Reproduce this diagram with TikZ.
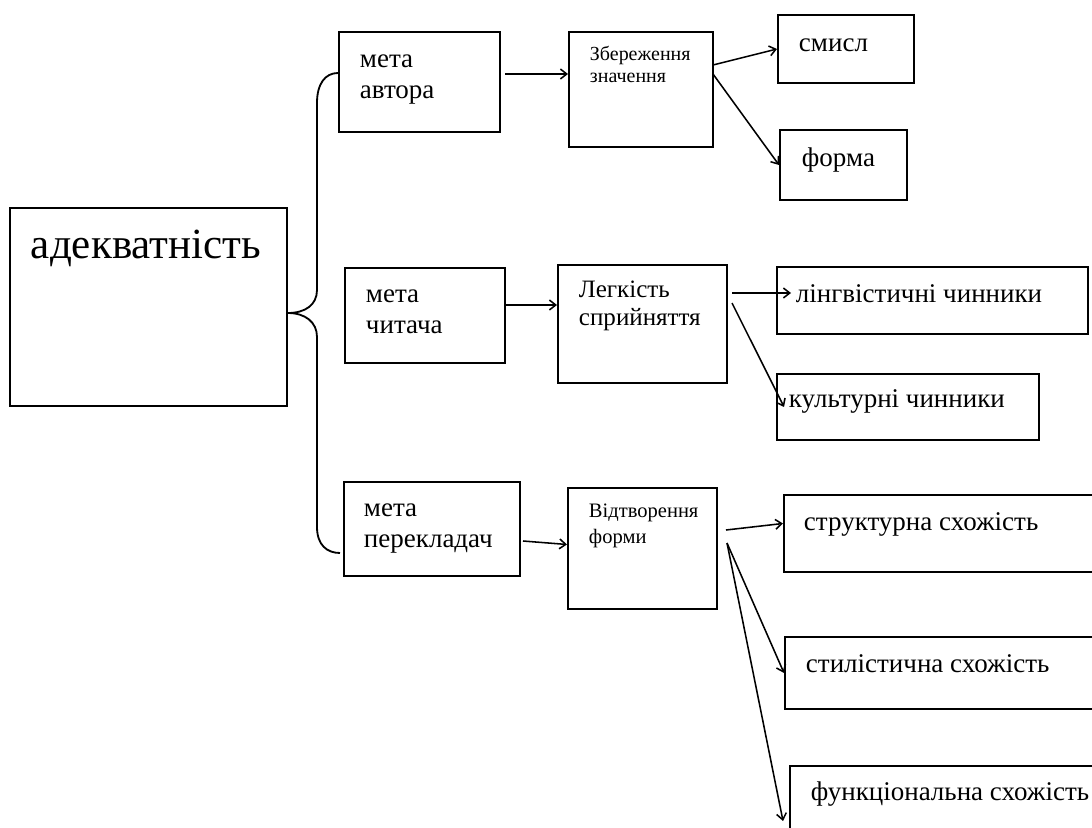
\documentclass[tikz,border=0pt]{standalone}
\usepackage{fontspec}
\setmainfont{Liberation Serif}
\usetikzlibrary{arrows.meta}
\newlength{\px}
\setlength{\px}{0.025cm}
\tikzset{
>={Straight Barb[length=4.5pt,width=7pt]},
  blok/.style n args={4}{
    draw=black, line width=1.4pt,
    anchor=north west,
    inner sep=0pt,
    execute at begin node={\begin{minipage}[t][#2\px][t]{#1\px}\raggedright\setlength{\leftskip}{#3\px}\rule{0pt}{#4\px}},
    execute at end node={\end{minipage}}},
  bigtxt/.style={font=\fontsize{30.6pt}{35pt}\selectfont},
  midtxt/.style={font=\fontsize{19.2pt}{22pt}\selectfont},
  legtxt/.style={font=\fontsize{17.8pt}{19.9pt}\selectfont},
  smalltxt/.style={font=\fontsize{14.2pt}{15.6pt}\selectfont},
  arr/.style={draw, line width=1.1pt, ->},
  brace/.style={draw, line width=1.3pt},
}
\begin{document}
\begin{tikzpicture}[x=0.025cm, y=-0.025cm]
\useasboundingbox (0,0) rectangle (1092,828);
\clip (0,0) rectangle (1092,828);
% boxes
\node[blok={277}{198}{21}{51}, bigtxt] (adekv) at (9,207) {адекватність};
\node[blok={161}{100}{21}{36}, midtxt] (avtor) at (338,31) {мета\\автора};
\node[blok={160}{95}{21}{35}, midtxt] (chytach) at (344,267) {мета\\читача};
\node[blok={176}{94}{20}{35}, midtxt] (perekl) at (343,481) {мета\\перекладач};
\node[blok={144}{115}{21}{29}, smalltxt] (zber) at (568,31) {Збереження\\значення};
\node[blok={169}{118}{21}{33}, legtxt] (legk) at (557,264) {Легкість\\сприйняття};
\node[blok={149}{121}{21}{30}, smalltxt, font=\fontsize{14.6pt}{17.8pt}\selectfont] (vidtv) at (567,487) {Відтворення\\форми};
\node[blok={136}{68}{21}{37}, midtxt] (smysl) at (777,14) {смисл};
\node[blok={127}{70}{22}{37}, midtxt] (forma) at (779,129) {форма};
\node[blok={311}{67}{19}{36}, midtxt] (lingv) at (776,266) {лінгвістичні чинники};
\node[blok={262}{66}{12}{34}, midtxt] (kult) at (776,373) {культурні чинники};
\node[blok={330}{77}{20}{36}, midtxt] (strukt) at (783,494) {структурна схожість};
\node[blok={330}{72}{21}{36}, midtxt] (styl) at (784,636) {стилістична схожість};
\node[blok={330}{110}{21}{35}, midtxt] (funk) at (789,765) {функціональна схожість};
% brace
\draw[brace] (338,73) .. controls (325,73) and (317,84) .. (317,103)
  -- (317,290) .. controls (317,305) and (305,313) .. (288,313)
  .. controls (305,313) and (317,322) .. (317,337)
  -- (317,527) .. controls (317,545) and (327,553) .. (340,553);
% arrows
\coordinate (a-out) at (505,74);
\coordinate (c-out) at (505,305);
\coordinate (p-out) at (523,541);
\coordinate (z-out1) at (713,65);
\coordinate (z-out2) at (713,74);
\coordinate (l-out1) at (732,293);
\coordinate (l-out2) at (732,303);
\coordinate (v-out1) at (726,530);
\coordinate (v-out2) at (727,543);
\draw[arr] (a-out) -- (a-out -| zber.west);
\draw[arr] (c-out) -- (c-out -| legk.west);
\draw[arr] (p-out) -- ([yshift=4\px]vidtv.west);
\draw[arr] (z-out1) -- (smysl.west);
\draw[arr] (z-out2) -- (forma.west);
\draw[arr, shorten >=-15\px] (l-out1) -- (l-out1 -| lingv.west);
\draw[arr] (l-out2) -- ([xshift=8\px]kult.west);
\draw[arr] (v-out1) -- ([yshift=10\px]strukt.west);
\draw[arr] (v-out2) -- (styl.west);
\draw[arr] (v-out2) -- ([xshift=-6\px]funk.west);
\end{tikzpicture}
\end{document}
